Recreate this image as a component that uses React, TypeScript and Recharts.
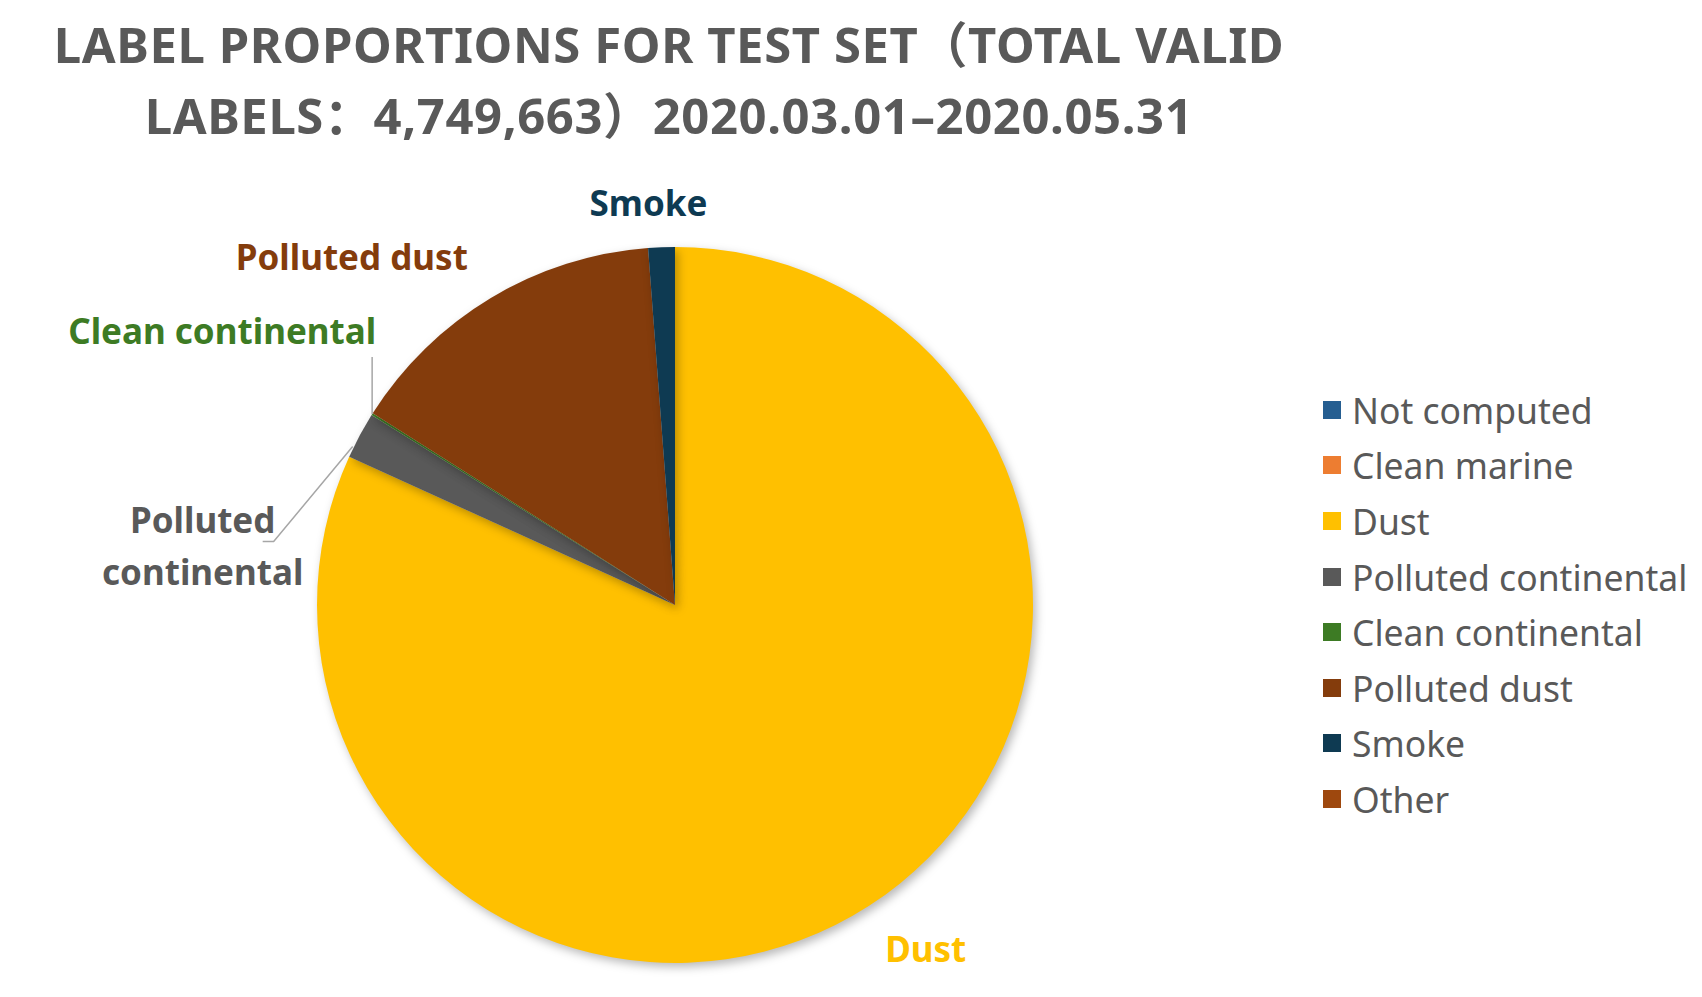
import React from 'react';
import { PieChart, Pie, Cell, Legend } from 'recharts';

// label proportions (percent of 4,749,663 valid labels)
const categories = [
  'Not computed',
  'Clean marine',
  'Dust',
  'Polluted continental',
  'Clean continental',
  'Polluted dust',
  'Smoke',
  'Other',
];
const shares = [0, 0, 81.8, 2.1, 0.1, 14.8, 1.2, 0];
const colors = ['#255E91', '#ED7D31', '#FFC000', '#595959', '#3D7B24', '#843C0C', '#0E3A52', '#9E480E'];

const titleLines = ['LABEL PROPORTIONS FOR TEST SET（TOTAL VALID', 'LABELS：4,749,663）2020.03.01–2020.05.31'];

const data = categories.map((name, i) => ({ name, value: shares[i] }));

const FONT = '"Noto Sans", "Noto Sans CJK SC", sans-serif';
const RAD = Math.PI / 180;

// where each outside label sits, relative to the point on the rim at the slice's mid angle
const labelPlacement: Record<string, { dx: number; dy: number; anchor: 'start' | 'middle' | 'end'; lines?: string[]; leader?: [number, number][]; lineGap?: number }> = {
  Smoke: { dx: -13, dy: -31, anchor: 'middle' },
  'Polluted dust': { dx: -23, dy: -28, anchor: 'end' },
  'Clean continental': { dx: 4, dy: -70, anchor: 'end', leader: [[0, 0], [0, -57]] },
  'Polluted continental': {
    dx: -157,
    dy: 98,
    anchor: 'middle',
    lines: ['Polluted', 'continental'],
    lineGap: 52,
    leader: [[-7, 11], [-86, 106], [-97, 106]],
  },
  Dust: { dx: 57, dy: 56, anchor: 'middle' },
};

const renderLabel = (props: any) => {
  const { cx, cy, midAngle, outerRadius, name, value, index } = props;
  const cfg = labelPlacement[name];
  if (!cfg || !value) return null;
  const ex = cx + outerRadius * Math.cos(-midAngle * RAD);
  const ey = cy + outerRadius * Math.sin(-midAngle * RAD);
  const lines = cfg.lines || [name];
  const color = colors[index];
  return (
    <g key={`lbl-${name}`}>
      {cfg.leader && (
        <polyline
          points={cfg.leader.map(([x, y]) => `${ex + x},${ey + y}`).join(' ')}
          fill="none"
          stroke="#A6A6A6"
          strokeWidth={1.5}
        />
      )}
      <text
        x={ex + cfg.dx}
        y={ey + cfg.dy}
        textAnchor={cfg.anchor}
        fill={color}
        fontFamily={FONT}
        fontWeight={700}
        fontSize={35}
      >
        {lines.map((l, i) => (
          <tspan key={l} x={ex + cfg.dx} dy={i === 0 ? 0 : cfg.lineGap}>
            {l}
          </tspan>
        ))}
      </text>
    </g>
  );
};

const renderLegend = () => (
  <div style={{ fontFamily: FONT }}>
    {categories.map((name, i) => (
      <div key={name} style={{ display: 'flex', alignItems: 'center', height: 55.6 }}>
        <span style={{ width: 18, height: 18, background: colors[i], marginRight: 11, flexShrink: 0 }} />
        <span style={{ fontSize: 35.5, color: '#595959', whiteSpace: 'nowrap' }}>{name}</span>
      </div>
    ))}
  </div>
);

export default function App() {
  return (
    <div style={{ position: 'absolute', left: 0, top: 0, width: 1702, height: 997, background: '#fff', overflow: 'hidden' }}>
      <style>{`.recharts-pie-sector { filter: drop-shadow(3px 4px 5px rgba(0,0,0,0.28)); }`}</style>
      {titleLines.map((t, i) => (
        <div
          key={t}
          style={{
            position: 'absolute',
            left: 0,
            width: 1338,
            top: 9 + i * 71,
            textAlign: 'center',
            fontFamily: FONT,
            fontWeight: 700,
            fontSize: 49,
            letterSpacing: 0.6,
            lineHeight: '71px',
            color: '#595959',
            whiteSpace: 'nowrap',
          }}
        >
          {t}
        </div>
      ))}
      <PieChart width={1702} height={997} margin={{ top: 0, right: 0, bottom: 0, left: 0 }}>
        <Pie
          data={data}
          dataKey="value"
          nameKey="name"
          cx={675}
          cy={605}
          outerRadius={358}
          startAngle={90}
          endAngle={-270}
          stroke="none"
          label={renderLabel}
          labelLine={false}
          isAnimationActive={false}
        >
          {data.map((d, i) => (
            <Cell key={d.name} fill={colors[i]} />
          ))}
        </Pie>
        <Legend
          layout="vertical"
          align="right"
          verticalAlign="top"
          content={renderLegend}
          wrapperStyle={{ left: 1323, top: 382, width: 379 }}
        />
      </PieChart>
    </div>
  );
}
